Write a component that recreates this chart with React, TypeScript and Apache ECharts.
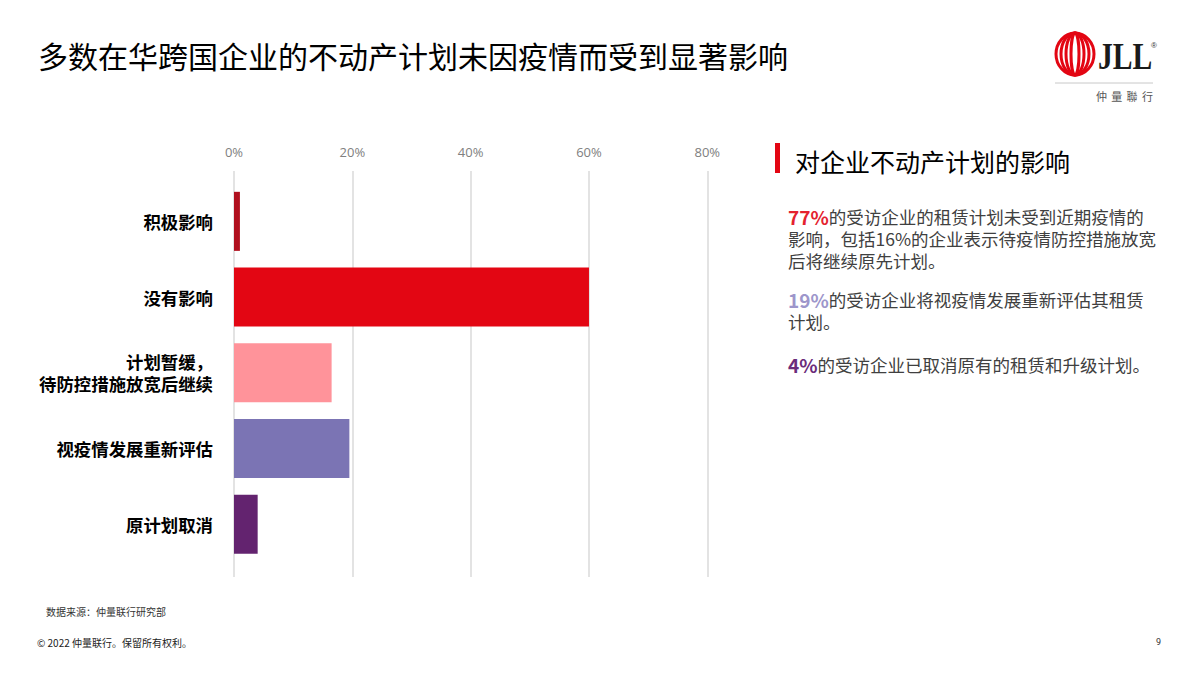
import React, { useEffect, useRef } from "react";
import * as echarts from "echarts";

const categories = [
  "积极影响",
  "没有影响",
  "计划暂缓，\n待防控措施放宽后继续",
  "视疫情发展重新评估",
  "原计划取消",
];
const values = [1, 60, 16.5, 19.5, 4];
const barColors = ["#B0101E", "#E30613", "#FF939A", "#7B74B4", "#63236F"];
const tickValues = [0, 20, 40, 60, 80];

const title = "多数在华跨国企业的不动产计划未因疫情而受到显著影响";
const panelTitle = "对企业不动产计划的影响";
const para1Pct = "77%";
const para1Lines = ["的受访企业的租赁计划未受到近期疫情的", "影响，包括16%的企业表示待疫情防控措施放宽", "后将继续原先计划。"];
const para2Pct = "19%";
const para2Lines = ["的受访企业将视疫情发展重新评估其租赁", "计划。"];
const para3Pct = "4%";
const para3Lines = ["的受访企业已取消原有的租赁和升级计划。"];
const sourceText = "数据来源：仲量联行研究部";
const copyrightText = "© 2022 仲量联行。保留所有权利。";
const pageNo = "9";
const logoChars = ["仲", "量", "聯", "行"];

const CJK = "'Noto Sans CJK SC', 'Noto Sans', sans-serif";

export default function App() {
  const ref = useRef<HTMLDivElement>(null);
  useEffect(() => {
    document.body.style.margin = "0";
    const chart = echarts.init(ref.current!, undefined, { renderer: "svg" });
    const left = 234;
    const right = 1200 - 707.3;
    const lineH = 22;
    const mkPara = (pct: string, lines: string[], color: string, yc: number) =>
      lines.map((l, i) =>
        i === 0
          ? {
              type: "text",
              x: 788,
              y: yc,
              style: {
                text: `{p|${pct}}{t|${l}}`,
                fontFamily: CJK,
                verticalAlign: "middle",
                rich: {
                  p: { fontSize: 19, fontWeight: "bold", fill: color, color, lineHeight: 20, fontFamily: CJK },
                  t: { fontSize: 17.5, fill: "#404040", color: "#404040", lineHeight: 20, fontFamily: CJK },
                },
              },
            }
          : {
              type: "text",
              x: 788,
              y: yc + i * lineH,
              style: { text: l, fontSize: 17.5, fontFamily: CJK, fill: "#404040", verticalAlign: "middle" },
            }
      );
    const ellipses = [19, 14, 9, 4].map((rx) => ({
      type: "ellipse",
      shape: { cx: 1075, cy: 54, rx, ry: 21 },
      style: { fill: "none", stroke: "#E30613", lineWidth: 3 },
    }));
    chart.setOption({
      animation: false,
      backgroundColor: "#ffffff",
      grid: [
        { left, right, top: 171, bottom: 675 - 577 },
        { left, right, top: 183.5, bottom: 675 - 562 },
      ],
      xAxis: [
        {
          type: "value",
          gridIndex: 0,
          position: "top",
          min: 0,
          max: 80,
          interval: 20,
          axisLine: { show: false },
          axisTick: { show: false },
          axisLabel: {
            formatter: (v: number) => (tickValues.includes(v) ? `${v}%` : ""),
            color: "#808080",
            fontSize: 13,
            margin: 13,
            fontFamily: "'Open Sans', sans-serif",
          },
          splitLine: { show: true, lineStyle: { color: "#DADADA", width: 1.5 } },
        },
        { type: "value", gridIndex: 1, min: 0, max: 80, show: false },
      ],
      yAxis: [
        { type: "value", gridIndex: 0, show: false, min: 0, max: 1 },
        {
          type: "category",
          gridIndex: 1,
          inverse: true,
          data: categories,
          axisLine: { show: false },
          axisTick: { show: false },
          splitLine: { show: false },
          axisLabel: {
            color: "#000000",
            fontSize: 17.4,
            fontWeight: "bold",
            fontFamily: CJK,
            margin: 21,
            lineHeight: 22,
            align: "right",
          },
        },
      ],
      series: [
        { type: "scatter", xAxisIndex: 0, yAxisIndex: 0, data: [], silent: true },
        {
          type: "bar",
          xAxisIndex: 1,
          yAxisIndex: 1,
          barCategoryGap: "22%",
          data: values.map((v, i) => ({ value: v, itemStyle: { color: barColors[i] } })),
        },
      ],
      graphic: [
        {
          type: "text",
          x: 38,
          y: 55,
          style: { text: title, fontSize: 30, fontFamily: CJK, fill: "#000", verticalAlign: "middle" },
        },
        { type: "rect", shape: { x: 775, y: 143, width: 5, height: 30 }, style: { fill: "#E30613" } },
        {
          type: "text",
          x: 795,
          y: 161,
          style: { text: panelTitle, fontSize: 25, fontFamily: CJK, fill: "#000", verticalAlign: "middle" },
        },
        ...mkPara(para1Pct, para1Lines, "#E4222E", 216),
        ...mkPara(para2Pct, para2Lines, "#9D96CB", 299),
        ...mkPara(para3Pct, para3Lines, "#6A2C7A", 364),
        {
          type: "text",
          x: 46,
          y: 611,
          style: { text: sourceText, fontSize: 10, fontFamily: CJK, fill: "#333", verticalAlign: "middle" },
        },
        {
          type: "text",
          x: 37,
          y: 642,
          style: { text: copyrightText, fontSize: 10, fontFamily: CJK, fill: "#222", verticalAlign: "middle" },
        },
        {
          type: "text",
          x: 1156,
          y: 642,
          style: { text: pageNo, fontSize: 9, fontFamily: "Roboto, sans-serif", fill: "#333", verticalAlign: "middle" },
        },
        ...ellipses,
        {
          type: "text",
          x: 1098,
          y: 56,
          scaleX: 0.78,
          style: {
            text: "JLL",
            fontSize: 38,
            fontWeight: "bold",
            fontFamily: "'Liberation Serif', serif",
            fill: "#1a1a1a",
            verticalAlign: "middle",
          },
        },
        {
          type: "text",
          x: 1151,
          y: 45,
          style: { text: "®", fontSize: 8, fontFamily: "'Liberation Sans', sans-serif", fill: "#333", verticalAlign: "middle" },
        },
        { type: "line", shape: { x1: 1055, y1: 83, x2: 1153, y2: 83 }, style: { stroke: "#C8C8C8", lineWidth: 1 } },
        ...logoChars.map((c, i) => ({
          type: "text",
          x: 1096 + i * 15.3,
          y: 96,
          style: { text: c, fontSize: 11, fontFamily: CJK, fill: "#555", verticalAlign: "middle" },
        })),
      ],
    });
    return () => chart.dispose();
  }, []);
  return (
    <div
      ref={ref}
      style={{ position: "absolute", left: 0, top: 0, width: 1200, height: 675 }}
    />
  );
}
